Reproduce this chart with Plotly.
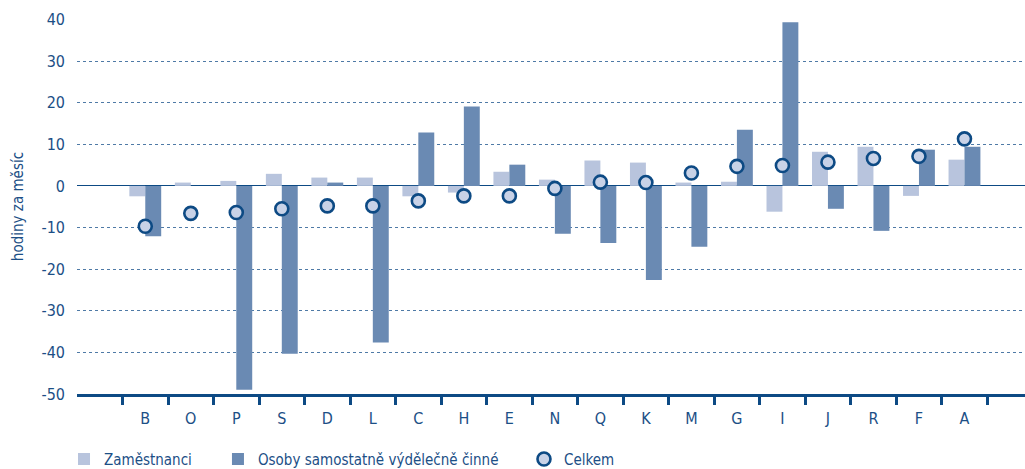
import plotly.graph_objects as go

categories = ["B", "O", "P", "S", "D", "L", "C", "H", "E", "N", "Q", "K", "M", "G", "I", "J", "R", "F", "A"]
zamestnanci = [-2.5, 0.8, 1.2, 2.9, 2.0, 2.0, -2.5, -1.6, 3.4, 1.5, 6.1, 5.6, 0.8, 1.0, -6.2, 8.2, 9.4, -2.4, 6.3]
osvc = [-12.1, 0.0, -49.0, -40.3, 0.8, -37.6, 12.8, 19.1, 5.1, -11.5, -13.7, -22.6, -14.6, 13.5, 39.3, -5.5, -10.8, 8.7, 9.4]
celkem = [-9.7, -6.6, -6.4, -5.5, -4.8, -4.8, -3.6, -2.4, -2.4, -0.6, 0.9, 0.8, 3.1, 4.7, 4.9, 5.7, 6.6, 7.1, 11.3]
y_ticks = [40, 30, 20, 10, 0, -10, -20, -30, -40, -50]

DARK = "#0d4a84"
TXT = "#1c4f86"
FONT = "DejaVu Sans Condensed, sans-serif"

xpos = list(range(1, len(categories) + 1))

fig = go.Figure()
fig.add_trace(go.Bar(x=xpos, y=zamestnanci, name="Zaměstnanci",
                     marker=dict(color="#b8c4dd", line=dict(width=0)), legend="legend"))
fig.add_trace(go.Bar(x=xpos, y=osvc, name="Osoby samostatně výdělečně činné",
                     marker=dict(color="#6a8ab3", line=dict(width=0)), legend="legend2"))
fig.add_trace(go.Scatter(x=xpos, y=celkem, name="Celkem", mode="markers",
                         marker=dict(size=13, color="#c8d2e7", line=dict(color=DARK, width=2.6)),
                         legend="legend3"))

leg_common = dict(orientation="h", yanchor="middle", y=-0.174, xanchor="left",
                  font=dict(family=FONT, size=15, color=TXT), bgcolor="rgba(0,0,0,0)",
                  borderwidth=0)
fig.update_layout(
    width=1025, height=469,
    showlegend=True,
    margin=dict(l=77, r=0, t=19, b=75, autoexpand=False),
    paper_bgcolor="white", plot_bgcolor="white",
    barmode="group", bargap=0.3, bargroupgap=0,
    font=dict(family=FONT, size=15, color=TXT),
    legend=dict(x=-0.0137, **leg_common),
    legend2=dict(x=0.1487, **leg_common),
    legend3=dict(x=0.4715, **leg_common),
    xaxis=dict(
        range=[-0.5, 20.33], tickmode="array", tickvals=xpos, ticktext=categories,
        ticks="", showgrid=False, zeroline=False,
        showline=True, linecolor=DARK, linewidth=2.5,
        ticklabelstandoff=8, automargin=False,
        tickfont=dict(family=FONT, size=16, color=TXT),
        minor=dict(tickmode="array", tickvals=[i + 0.5 for i in range(20)], ticks="outside",
                   ticklen=8, tickwidth=2.5, tickcolor=DARK, showgrid=False),
    ),
    yaxis=dict(
        range=[-50, 40.1], tickmode="array", tickvals=y_ticks,
        ticktext=[str(v) for v in y_ticks],
        showgrid=True, gridcolor="#4f7aa6", griddash="dot", gridwidth=1,
        zeroline=True, zerolinecolor=DARK, zerolinewidth=1.4,
        showline=False, ticks="", ticklabelstandoff=11, automargin=False,
        tickfont=dict(family=FONT, size=16, color=TXT),
        title=dict(text="hodiny za měsíc", font=dict(family=FONT, size=15, color=TXT), standoff=14),
    ),
)
fig.write_html("out.html", config={"displayModeBar": False},
               post_script="document.body.style.margin='0px';document.body.style.overflow='hidden';")
